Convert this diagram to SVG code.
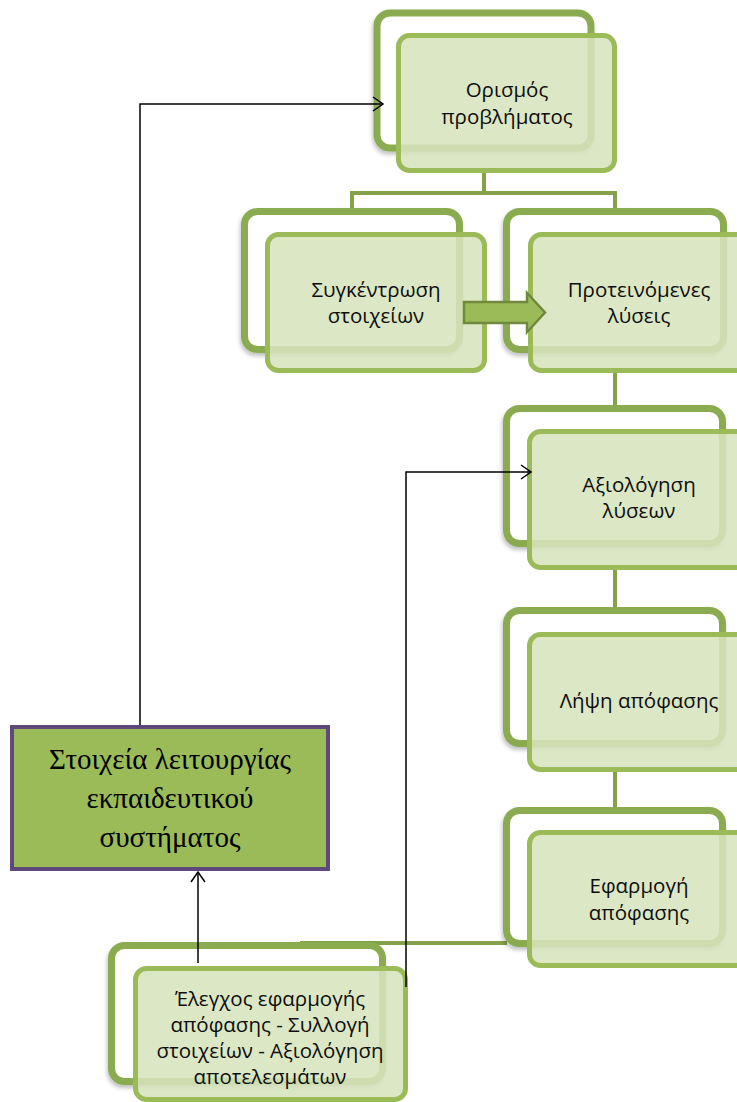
<svg xmlns="http://www.w3.org/2000/svg" width="737" height="1102" viewBox="0 0 737 1102">
  <style>
    .back { fill: #ffffff; stroke: #8aab4f; stroke-width: 7; filter: url(#shadow); }
    .front { fill: #d7e4bd; fill-opacity: 0.88; stroke: #9bbb59; stroke-width: 5; }
    .label { font-family: "Open Sans", "Noto Sans", sans-serif; font-size: 20.5px; fill: #0d0d0d; text-anchor: middle; }
    .tree { fill: none; stroke: #84a24a; stroke-width: 4; }
    .link { fill: none; stroke: #000000; stroke-width: 1.5; }
    .serif { font-family: "Liberation Serif", "Times New Roman", serif; font-size: 29px; fill: #000000; text-anchor: middle; }
  </style>
  <defs>
    <filter id="shadow" x="-10%" y="-10%" width="125%" height="130%">
      <feDropShadow dx="-1" dy="3" stdDeviation="2" flood-color="#000000" flood-opacity="0.25"/>
    </filter>
    <marker id="open" viewBox="0 0 12 16" refX="11" refY="8" markerWidth="12" markerHeight="16" markerUnits="userSpaceOnUse" orient="auto">
      <path d="M1,1 L11,8 L1,15" fill="none" stroke="#000000" stroke-width="1.5"/>
    </marker>
  </defs>

  <!-- hierarchy lines -->
  <g id="tree-connectors">
    <path class="tree" d="M484,170 V193 M352,193 H615 M352,191 V212 M615,191 V212"/>
    <path class="tree" d="M615,370 V409"/>
    <path class="tree" d="M615,567 V611"/>
    <path class="tree" d="M615,770 V811"/>
    <path class="tree" d="M300,943 H507"/>
  </g>

  <g id="node-orismos">
    <rect class="back" x="377" y="13" width="214" height="135" rx="13"/>
    <rect class="front" x="398.5" y="35.5" width="216" height="135" rx="11"/>
    <text class="label" x="507" y="97">Ορισμός</text>
    <text class="label" x="507" y="124">προβλήματος</text>
  </g>

  <g id="node-sygkentrosi">
    <rect class="back" x="244.5" y="211.5" width="215" height="138" rx="13"/>
    <rect class="front" x="267.5" y="234.5" width="217" height="136" rx="11"/>
    <text class="label" x="376" y="297">Συγκέντρωση</text>
    <text class="label" x="376" y="323">στοιχείων</text>
  </g>

  <g id="node-proteinomenes">
    <rect class="back" x="506.5" y="211.5" width="217" height="138" rx="13"/>
    <rect class="front" x="530.5" y="234.5" width="217" height="136" rx="11"/>
    <text class="label" x="639" y="297">Προτεινόμενες</text>
    <text class="label" x="639" y="323">λύσεις</text>
  </g>

  <!-- block arrow between the two siblings -->
  <g id="block-arrow">
    <path d="M464,302 H527 V293 L545,312.5 L527,332 V323 H464 Z" fill="#9bbb59" stroke="#71893f" stroke-width="2.5"/>
  </g>

  <g id="node-axiologisi">
    <rect class="back" x="506.5" y="408.5" width="216" height="135" rx="13"/>
    <rect class="front" x="529.5" y="431.5" width="217" height="136" rx="11"/>
    <text class="label" x="639" y="492">Αξιολόγηση</text>
    <text class="label" x="639" y="518">λύσεων</text>
  </g>

  <g id="node-lipsi">
    <rect class="back" x="506.5" y="610.5" width="216" height="133" rx="13"/>
    <rect class="front" x="529.5" y="634.5" width="217" height="135" rx="11"/>
    <text class="label" x="639" y="708">Λήψη απόφασης</text>
  </g>

  <g id="node-efarmogi">
    <rect class="back" x="506.5" y="810.5" width="216" height="133" rx="13"/>
    <rect class="front" x="529.5" y="832.5" width="217" height="133" rx="11"/>
    <text class="label" x="639" y="893">Εφαρμογή</text>
    <text class="label" x="639" y="920">απόφασης</text>
  </g>

  <g id="node-elegxos">
    <rect class="back" x="111.5" y="945.5" width="271" height="136" rx="13"/>
    <rect class="front" x="135.5" y="968.5" width="270" height="131" rx="11"/>
    <text class="label" x="270" y="1006">Έλεγχος εφαρμογής</text>
    <text class="label" x="270" y="1032">απόφασης - Συλλογή</text>
    <text class="label" x="270" y="1058">στοιχείων - Αξιολόγηση</text>
    <text class="label" x="270" y="1084">αποτελεσμάτων</text>
  </g>

  <g id="node-stoixeia">
    <rect x="12" y="727" width="316" height="142" fill="#9bbb59" stroke="#5f497a" stroke-width="4"/>
    <text class="serif" x="170" y="769">Στοιχεία λειτουργίας</text>
    <text class="serif" x="170" y="808">εκπαιδευτικού</text>
    <text class="serif" x="170" y="847">συστήματος</text>
  </g>

  <!-- feedback connectors -->
  <g id="feedback-connectors">
    <path class="link" d="M140,725 V104 H383" marker-end="url(#open)"/>
    <path class="link" d="M406,987 V472 H531" marker-end="url(#open)"/>
    <path class="link" d="M198,963 V872" marker-end="url(#open)"/>
  </g>
</svg>
